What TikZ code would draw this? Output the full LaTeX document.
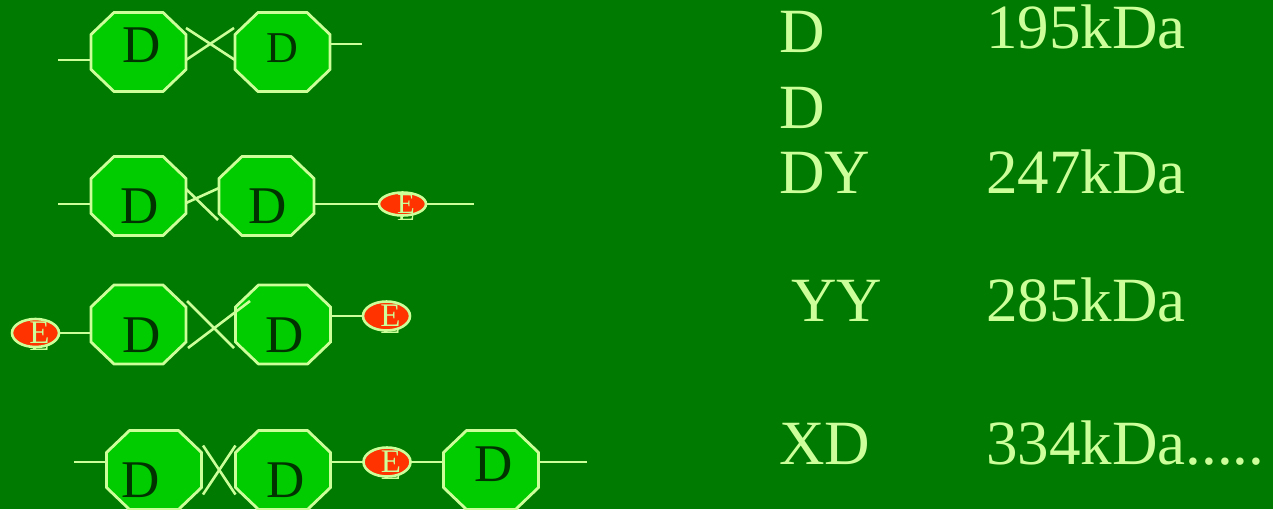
\documentclass[tikz,border=0pt]{standalone}
\usepackage{fontspec}
\setmainfont{Liberation Serif}
\usetikzlibrary{shapes.geometric}
\definecolor{bg}{RGB}{0,122,0}
\definecolor{octfill}{RGB}{0,204,0}
\definecolor{light}{RGB}{204,255,153}
\definecolor{dtext}{RGB}{0,51,0}
\definecolor{ered}{RGB}{255,51,0}
\tikzset{
  octshape/.style={fill=octfill,draw=light,line width=2.8pt,line join=miter},
  octbox/.style={rectangle,minimum width=95pt,minimum height=79pt,inner sep=0pt,outer sep=0pt},
  dlab/.style={inner sep=0pt,text=dtext,font=\fontsize{53}{53}\selectfont},
  ln/.style={draw=light,line width=2.6pt},
  ell/.style={ellipse,fill=ered,draw=light,line width=2.6pt,minimum width=47pt,minimum height=30pt,inner sep=0pt,outer sep=0pt},
  elab/.style={inner sep=0pt,text=light,font=\fontsize{33}{33}\selectfont},
  rtxt/.style={anchor=base west,inner sep=0pt,text=light,font=\fontsize{63}{63}\selectfont}
}
\newcommand\octnode[3]{%
  \path[octshape,shift={(#2,#3)}] (-24.5,-39.5) -- (24.5,-39.5) -- (47.5,-17.5) -- (47.5,17.5) -- (24.5,39.5) -- (-24.5,39.5) -- (-47.5,17.5) -- (-47.5,-17.5) -- cycle;
  \node[octbox] (#1) at (#2,#3) {};}
\newcommand\enode[5]{% name, x, y, height, E offset x
  \node[elab] (#1s) at (#2+#5,#3+7) {E};
  \node[ell,minimum height=#4pt] (#1) at (#2,#3) {};
  \node[elab] (#1t) at (#2+#5,#3) {E};}
\begin{document}
\begin{tikzpicture}[x=1pt,y=-1pt]
\useasboundingbox (0,0) rectangle (1273,509);
\fill[bg] (0,0) rectangle (1273,509);
\clip (0,0) rectangle (1273,509);

% ---------- row 1 ----------
\octnode{a1}{138.5}{52}
\octnode{b1}{282.5}{52}
\node[dlab] (a1t) at (142,45.5) {D};
\node[dlab,font=\fontsize{44}{44}\selectfont] (b1t) at (282,48) {D};
\coordinate (l1) at (58,60);
\coordinate (r1) at (362,44);
\draw[ln] (l1) -- (l1 -| a1.west);
\draw[ln] (r1 -| b1.east) -- (r1);
\draw[ln] ([yshift=24pt]a1.east) -- ([yshift=-8pt]b1.west);
\draw[ln] ([yshift=-8pt]a1.east) -- ([xshift=-1pt,yshift=24pt]b1.west);

% ---------- row 2 ----------
\octnode{a2}{138.5}{196}
\octnode{b2}{266.5}{196}
\node[dlab] (a2t) at (140,206) {D};
\node[dlab] (b2t) at (268,206) {D};
\coordinate (l2) at (58,204);
\coordinate (r2) at (474,204);
\draw[ln] (l2) -- (l2 -| a2.west);
\draw[ln] ([yshift=-7pt]a2.east) -- ([yshift=8pt]b2.west);
\draw[ln] ([yshift=7pt]a2.east) -- ([xshift=-1pt,yshift=-24pt]b2.west);
\node[elab,font=\fontsize{29}{29}\selectfont] (e2s) at (406,211) {E};
\node[ell,minimum height=23pt] (e2) at (402.5,204) {};
\node[elab,font=\fontsize{29}{29}\selectfont] (e2t) at (406,204) {E};
\draw[ln] (l2 -| b2.east) -- (e2.west);
\draw[ln] (e2.east) -- (r2);

% ---------- row 3 ----------
\octnode{a3}{138.5}{324.5}
\octnode{b3}{283}{324.5}
\node[dlab] (a3t) at (142,335) {D};
\node[dlab] (b3t) at (285,335) {D};
\enode{e3a}{35.5}{333}{28}{4}
\enode{e3b}{386.5}{316}{29}{4}
\draw[ln] (e3a.east) -- (e3a.east -| a3.west);
\draw[ln] (e3b.west -| b3.east) -- (e3b.west);
\draw[ln] ([xshift=1pt,yshift=23.5pt]a3.east) -- ([xshift=-1.5pt,yshift=-23.5pt]b3.west);
\draw[ln] ([xshift=2pt,yshift=-23.5pt]a3.east) -- ([xshift=14.5pt,yshift=23.5pt]b3.west);

% ---------- row 4 ----------
\octnode{a4}{154}{470}
\octnode{b4}{283}{470}
\octnode{c4}{491}{470}
\node[dlab] (a4t) at (141,480) {D};
\node[dlab] (b4t) at (286,480) {D};
\node[dlab] (c4t) at (494,464) {D};
\enode{e4}{387}{462}{29}{4}
\coordinate (l4) at (74,462);
\coordinate (r4) at (587,462);
\draw[ln] (l4) -- (l4 -| a4.west);
\draw[ln] (e4.west -| b4.east) -- (e4.west);
\draw[ln] (e4.east) -- (e4.east -| c4.west);
\draw[ln] (r4 -| c4.east) -- (r4);
\draw[ln] ([xshift=1.5pt,yshift=24.5pt]a4.east) -- ([yshift=-24.5pt]b4.west);
\draw[ln] ([xshift=1.5pt,yshift=-24.5pt]a4.east) -- ([yshift=24.5pt]b4.west);

% ---------- right text ----------
\node[rtxt] (t1) at (779,52) {D};
\node[rtxt] (n1) at (986,48) {195kDa};
\node[rtxt] (t2) at (779,128) {D};
\node[rtxt] (t3) at (779,193) {DY};
\node[rtxt] (n3) at (986,193) {247kDa};
\node[rtxt] (t4) at (791,321) {YY};
\node[rtxt] (n4) at (986,321) {285kDa};
\node[rtxt] (t5) at (779,464) {XD};
\node[rtxt] (n5) at (986,464) {334kDa.....};
\end{tikzpicture}
\end{document}
